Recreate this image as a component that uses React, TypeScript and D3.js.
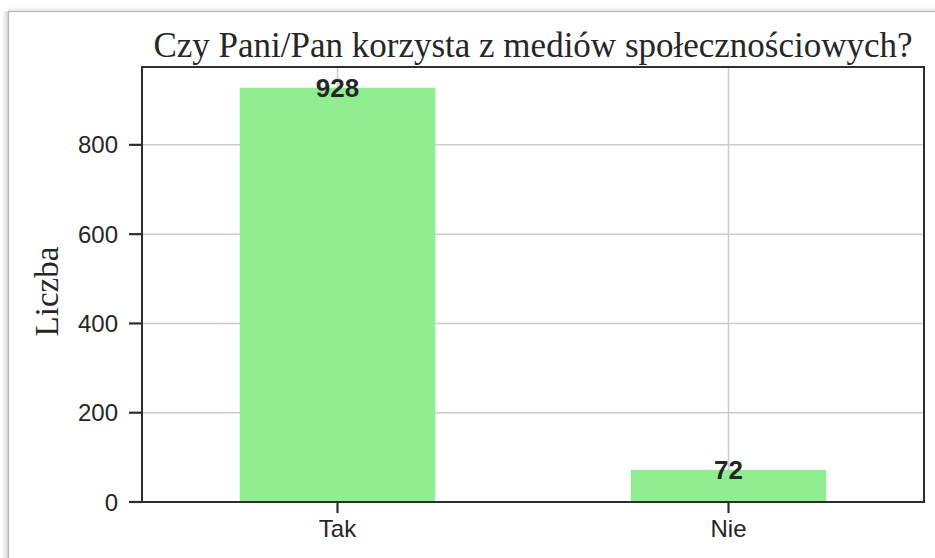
import React from "react";
import * as d3 from "d3";

const categories = ["Tak", "Nie"];
const values = [928, 72];
const yTicks = [0, 200, 400, 600, 800];
const title = "Czy Pani/Pan korzysta z mediów społecznościowych?";
const yLabel = "Liczba";

const W = 935;
const H = 558;
const M = { left: 142, right: 924, top: 67, bottom: 502 };

export default function App() {
  const x = d3.scaleLinear().domain([-0.5, categories.length - 0.5]).range([M.left, M.right]);
  const yMax = d3.max(values)! * 1.05;
  const y = d3.scaleLinear().domain([0, yMax]).range([M.bottom, M.top]);
  const bw = x(0.25) - x(-0.25);
  const sans = "'Liberation Sans', Arial, sans-serif";
  const serif = "'Liberation Serif', 'Times New Roman', serif";
  return (
    <svg width={W} height={H} style={{ position: "absolute", left: 0, top: 0, background: "#fff" }}>
      <defs>
        <linearGradient id="sh" x1="0" x2="1" y1="0" y2="0">
          <stop offset="0" stopColor="#fff" />
          <stop offset="1" stopColor="#d8d8d8" />
        </linearGradient>
        <linearGradient id="shT" x1="0" x2="0" y1="0" y2="1">
          <stop offset="0" stopColor="#fff" />
          <stop offset="1" stopColor="#e6e6e6" />
        </linearGradient>
      </defs>
      <rect x={2} y={11} width={6} height={H - 11} fill="url(#sh)" />
      <rect x={8} y={7} width={W - 8} height={4} fill="url(#shT)" />
      <line x1={8.5} x2={8.5} y1={11} y2={H} stroke="#b5b5b5" strokeWidth={1.2} />
      <line x1={8} x2={W} y1={11.5} y2={11.5} stroke="#b5b5b5" strokeWidth={1.2} />
      {/* grid */}
      {yTicks.map((t) => (
        <line key={"gy" + t} x1={M.left} x2={M.right} y1={y(t)} y2={y(t)} stroke="#cccccc" strokeWidth={1.5} />
      ))}
      {categories.map((c, i) => (
        <line key={"gx" + c} x1={x(i)} x2={x(i)} y1={M.top} y2={M.bottom} stroke="#cccccc" strokeWidth={1.5} />
      ))}
      {/* bars */}
      {values.map((v, i) => (
        <rect key={"b" + i} x={x(i) - bw / 2} y={y(v)} width={bw} height={y(0) - y(v)} fill="#90EE90" />
      ))}
      {/* bar labels */}
      {values.map((v, i) => (
        <text key={"l" + i} x={x(i)} y={y(v)} dy="0.36em" textAnchor="middle" fontFamily={sans} fontWeight="bold" fontSize={26} fill="#262626">
          {v}
        </text>
      ))}
      {/* spines */}
      <rect x={M.left} y={M.top} width={M.right - M.left} height={M.bottom - M.top} fill="none" stroke="#2e2e2e" strokeWidth={2} />
      {/* y ticks */}
      {yTicks.map((t) => (
        <g key={"yt" + t}>
          <line x1={M.left - 13} x2={M.left} y1={y(t)} y2={y(t)} stroke="#2e2e2e" strokeWidth={2.2} />
          <text x={M.left - 24} y={y(t)} dy="0.36em" textAnchor="end" fontFamily={sans} fontSize={24} fill="#262626">
            {t}
          </text>
        </g>
      ))}
      {/* x ticks */}
      {categories.map((c, i) => (
        <g key={"xt" + c}>
          <line x1={x(i)} x2={x(i)} y1={M.bottom} y2={M.bottom + 11} stroke="#2e2e2e" strokeWidth={2.2} />
          <text x={x(i)} y={M.bottom + 35} textAnchor="middle" fontFamily={sans} fontSize={24} fill="#262626">
            {c}
          </text>
        </g>
      ))}
      <text x={(M.left + M.right) / 2} y={57} textAnchor="middle" fontFamily={serif} fontSize={35} fill="#262626">
        {title}
      </text>
      <text transform={`translate(58, ${(M.top + M.bottom) / 2 + 7}) rotate(-90)`} textAnchor="middle" fontFamily={serif} fontSize={33} fill="#262626">
        {yLabel}
      </text>
    </svg>
  );
}
